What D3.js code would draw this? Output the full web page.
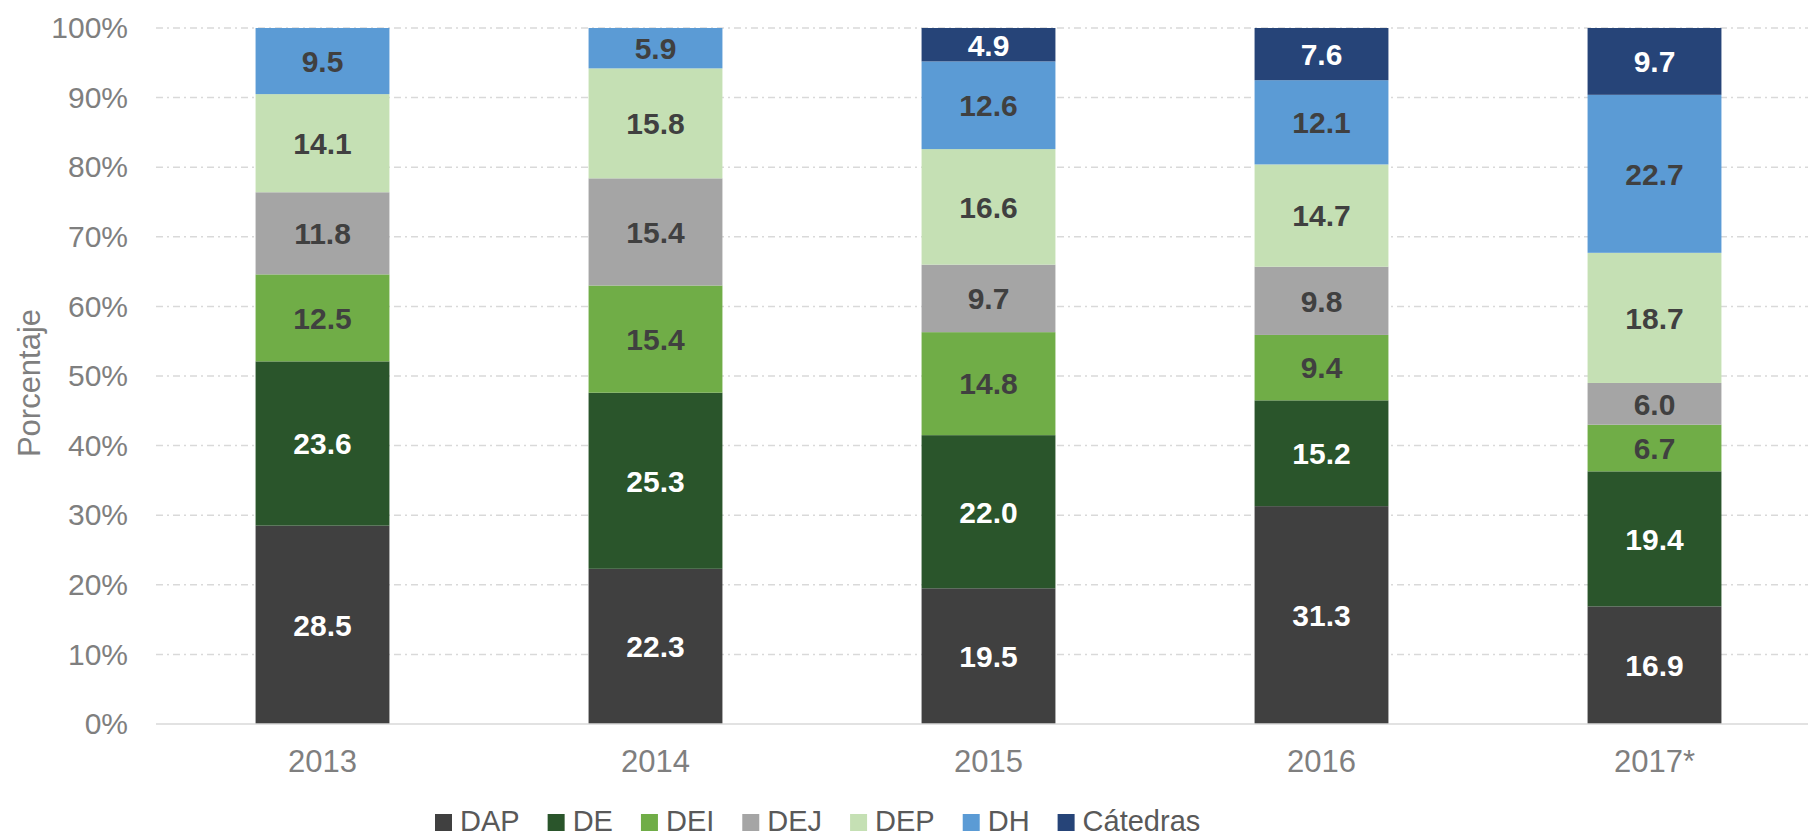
<!DOCTYPE html>
<html>
<head>
<meta charset="utf-8">
<script src="https://cdnjs.cloudflare.com/ajax/libs/d3/7.8.5/d3.min.js"></script>
<style>
  body { margin: 0; background: #fff; }
  svg { display: block; font-family: "Liberation Sans", Arial, sans-serif; }
</style>
</head>
<body>
<svg id="chart" width="1808" height="837"></svg>
<script>
var years = ["2013", "2014", "2015", "2016", "2017*"];
var seriesNames = ["DAP", "DE", "DEI", "DEJ", "DEP", "DH", "Cátedras"];
var colors = ["#404040", "#2a552b", "#70ad47", "#a5a5a5", "#c5e0b4", "#5b9bd5", "#264478"];
var labelColors = ["#fff", "#fff", "#404040", "#404040", "#404040", "#404040", "#fff"];

var DAP = [28.5, 22.3, 19.5, 31.3, 16.9];
var DE = [23.6, 25.3, 22.0, 15.2, 19.4];
var DEI = [12.5, 15.4, 14.8, 9.4, 6.7];
var DEJ = [11.8, 15.4, 9.7, 9.8, 6.0];
var DEP = [14.1, 15.8, 16.6, 14.7, 18.7];
var DH = [9.5, 5.9, 12.6, 12.1, 22.7];
var Catedras = [0, 0, 4.9, 7.6, 9.7];

var yTicks = [0, 10, 20, 30, 40, 50, 60, 70, 80, 90, 100];

var margin = {top: 28, bottom: 113, left: 156, right: -13};
var svg = d3.select("#chart");
var width = 1808, height = 837;

var rows = years.map(function(y, i) {
  return {year: y, DAP: DAP[i], DE: DE[i], DEI: DEI[i], DEJ: DEJ[i], DEP: DEP[i], DH: DH[i], "Cátedras": Catedras[i]};
});
var stacked = d3.stack().keys(seriesNames)(rows);

var xScale = d3.scaleBand()
  .domain(years)
  .range([margin.left, width - margin.right])
  .paddingInner(0.598)
  .paddingOuter(0.299);
var yScale = d3.scaleLinear()
  .domain([0, 100])
  .range([height - margin.bottom, margin.top])
  .clamp(true);

// gridlines
svg.append("g").selectAll("line")
  .data(yTicks.filter(function(d) { return d > 0; }))
  .enter().append("line")
    .attr("x1", margin.left)
    .attr("x2", width)
    .attr("y1", function(d) { return yScale(d); })
    .attr("y2", function(d) { return yScale(d); })
    .attr("stroke", "#d9d9d9")
    .attr("stroke-width", 1.5)
    .attr("stroke-dasharray", "7,4,2,4");

// bars
var layers = svg.append("g").selectAll("g")
  .data(stacked)
  .enter().append("g")
    .attr("fill", function(d, i) { return colors[i]; });
layers.selectAll("rect")
  .data(function(d) { return d; })
  .enter().append("rect")
    .attr("x", function(d) { return xScale(d.data.year); })
    .attr("y", function(d) { return yScale(d[1]); })
    .attr("width", xScale.bandwidth())
    .attr("height", function(d) { return yScale(d[0]) - yScale(d[1]); });

// labels
layers.each(function(layer, li) {
  d3.select(this).selectAll("text")
    .data(layer.filter(function(d) { return d[1] - d[0] > 0; }))
    .enter().append("text")
      .attr("x", function(d) { return xScale(d.data.year) + xScale.bandwidth() / 2; })
      .attr("y", function(d) { return (yScale(d[0]) + yScale(d[1])) / 2; })
      .attr("dy", "0.36em")
      .attr("text-anchor", "middle")
      .attr("font-size", "30px")
      .attr("font-weight", "bold")
      .attr("fill", labelColors[li])
      .text(function(d) { return d3.format(".1f")(d[1] - d[0]); });
});

// baseline
svg.append("line")
  .attr("x1", margin.left)
  .attr("x2", width)
  .attr("y1", yScale(0))
  .attr("y2", yScale(0))
  .attr("stroke", "#d9d9d9")
  .attr("stroke-width", 1.5);

// y axis
var yAxis = svg.append("g")
  .attr("transform", "translate(" + (margin.left - 28) + ",0)")
  .call(d3.axisLeft(yScale).tickValues(yTicks).tickSize(0).tickPadding(0)
    .tickFormat(function(d) { return d + "%"; }));
yAxis.select(".domain").remove();
yAxis.selectAll("text")
  .attr("font-size", "30px")
  .attr("font-family", "Liberation Sans, Arial, sans-serif")
  .attr("fill", "#7f7f7f");

// x axis
var xAxis = svg.append("g")
  .attr("transform", "translate(0," + yScale(0) + ")")
  .call(d3.axisBottom(xScale).tickSize(0).tickPadding(26));
xAxis.select(".domain").remove();
xAxis.selectAll("text")
  .attr("font-size", "31px")
  .attr("font-family", "Liberation Sans, Arial, sans-serif")
  .attr("fill", "#7f7f7f");

// y title
svg.append("text")
  .text("Porcentaje")
  .attr("text-anchor", "middle")
  .attr("font-size", "31px")
  .attr("fill", "#7f7f7f")
  .attr("transform", "translate(40,383) rotate(-90)");

// legend
var legend = svg.append("g");
var lx = 435;
seriesNames.forEach(function(name, i) {
  legend.append("rect")
    .attr("x", lx).attr("y", 814)
    .attr("width", 17).attr("height", 17)
    .attr("fill", colors[i]);
  var t = legend.append("text")
    .attr("x", lx + 25).attr("y", 831)
    .attr("font-size", "29px")
    .attr("fill", "#595959")
    .text(name);
  lx += 25 + t.node().getComputedTextLength() + 28;
});
</script>
</body>
</html>
